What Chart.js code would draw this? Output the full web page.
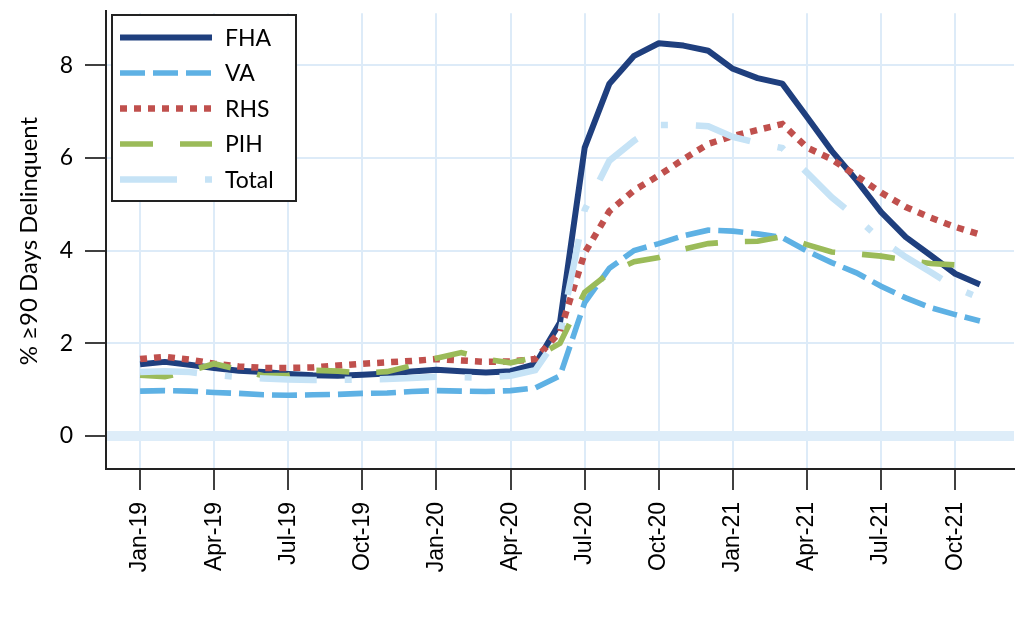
<!DOCTYPE html>
<html>
<head>
<meta charset="utf-8">
<script src="https://cdn.jsdelivr.net/npm/chart.js@4.4.1/dist/chart.umd.min.js"></script>
<style>
html,body{margin:0;padding:0;background:#fff;}
#wrap{width:1024px;height:618px;}
</style>
</head>
<body>
<div id="wrap"><canvas id="c" width="1024" height="618"></canvas></div>
<script>
const months = ["Jan-19","Feb-19","Mar-19","Apr-19","May-19","Jun-19","Jul-19","Aug-19","Sep-19","Oct-19","Nov-19","Dec-19",
  "Jan-20","Feb-20","Mar-20","Apr-20","May-20","Jun-20","Jul-20","Aug-20","Sep-20","Oct-20","Nov-20","Dec-20",
  "Jan-21","Feb-21","Mar-21","Apr-21","May-21","Jun-21","Jul-21","Aug-21","Sep-21","Oct-21","Nov-21"];
const xTickLabels = ["Jan-19","Apr-19","Jul-19","Oct-19","Jan-20","Apr-20","Jul-20","Oct-20","Jan-21","Apr-21","Jul-21","Oct-21"];
const yTickValues = [0,2,4,6,8];

const fha   = [1.55,1.60,1.54,1.47,1.41,1.38,1.34,1.31,1.30,1.32,1.35,1.39,1.43,1.40,1.37,1.40,1.55,2.45,6.22,7.60,8.20,8.47,8.42,8.31,7.92,7.72,7.60,6.88,6.15,5.52,4.83,4.29,3.90,3.50,3.27];
const va    = [0.97,0.98,0.97,0.94,0.92,0.89,0.88,0.89,0.90,0.92,0.93,0.96,0.98,0.97,0.96,0.98,1.04,1.30,2.88,3.62,4.00,4.15,4.32,4.44,4.42,4.36,4.28,3.99,3.74,3.52,3.23,2.98,2.77,2.62,2.48];
const rhs   = [1.66,1.71,1.65,1.56,1.50,1.47,1.47,1.48,1.52,1.56,1.59,1.62,1.66,1.63,1.60,1.61,1.66,2.25,3.95,4.85,5.30,5.62,5.97,6.30,6.47,6.60,6.73,6.22,5.97,5.61,5.25,4.94,4.71,4.51,4.35];
const pih   = [1.31,1.28,1.40,1.56,1.43,1.30,1.31,1.42,1.40,1.36,1.39,1.52,1.68,1.80,1.66,1.58,1.70,2.00,3.10,3.52,3.76,3.85,4.03,4.15,4.19,4.20,4.30,4.13,3.97,3.93,3.88,3.80,3.72,3.69,3.54];
const total = [1.38,1.40,1.38,1.32,1.27,1.24,1.22,1.21,1.21,1.22,1.23,1.25,1.28,1.27,1.26,1.30,1.42,2.20,4.88,5.94,6.37,6.71,6.71,6.68,6.45,6.32,6.21,5.68,5.15,4.71,4.23,3.86,3.54,3.20,2.98];

const toPts = arr => arr.map((v, i) => ({x: i, y: v}));
const xTickIdx = xTickLabels.map(l => months.indexOf(l));

const series = [
  {label:'FHA',   data:fha,   color:'#1f3f7e', width:6,   dash:[],            order:5, join:'round'},
  {label:'VA',    data:va,    color:'#5eb1e4', width:5.6, dash:[25,8],        order:4, join:'miter'},
  {label:'RHS',   data:rhs,   color:'#c0504d', width:6.5, dash:[7,7],         order:3, join:'miter'},
  {label:'PIH',   data:pih,   color:'#9bbb59', width:5.6, dash:[33,27],       order:2, join:'miter'},
  {label:'Total', data:total, color:'#c6e3f6', width:6.5, dash:[57,28,7,28],  order:1, join:'miter'}
];

const legendPlugin = {
  id: 'boxLegend',
  afterDraw(chart) {
    const ctx = chart.ctx;
    const area = chart.chartArea;
    ctx.save();
    // extend the value axis line up to the top of the frame
    if (area.top > 10) {
      ctx.beginPath();
      ctx.lineWidth = 2;
      ctx.strokeStyle = '#222';
      ctx.moveTo(area.left, 10);
      ctx.lineTo(area.left, area.top + 1);
      ctx.stroke();
    }
    const bx = 112, by = 15, bw = 184, bh = 186;
    ctx.fillStyle = '#fff';
    ctx.fillRect(bx, by, bw, bh);
    ctx.lineWidth = 2;
    ctx.strokeStyle = '#222';
    ctx.strokeRect(bx, by, bw, bh);
    series.forEach((s, i) => {
      const y = 37.5 + i * 35.5;
      ctx.beginPath();
      ctx.setLineDash(s.dash);
      ctx.lineDashOffset = 0;
      ctx.lineCap = 'butt';
      ctx.lineWidth = s.width;
      ctx.strokeStyle = s.color;
      ctx.moveTo(120, y);
      ctx.lineTo(212, y);
      ctx.stroke();
      ctx.setLineDash([]);
      ctx.fillStyle = '#000';
      ctx.font = '23px Lato';
      ctx.textBaseline = 'middle';
      ctx.textAlign = 'left';
      ctx.fillText(s.label, 225, y + 1);
    });
    ctx.restore();
  }
};

new Chart(document.getElementById('c'), {
  type: 'line',
  data: {
    datasets: series.map(s => ({
      label: s.label,
      data: toPts(s.data),
      borderColor: s.color,
      backgroundColor: s.color,
      borderWidth: s.width,
      borderDash: s.dash,
      borderCapStyle: 'butt',
      borderJoinStyle: s.join,
      pointRadius: 0,
      tension: 0,
      fill: false,
      order: s.order
    }))
  },
  options: {
    responsive: false,
    devicePixelRatio: 1,
    animation: false,
    layout: {padding: {left: 0, right: 10, top: 0, bottom: 0}},
    plugins: {legend: {display: false}, tooltip: {enabled: false}},
    scales: {
      x: {
        type: 'linear',
        min: -1.38,
        max: 35.38,
        afterBuildTicks: s => { s.ticks = xTickIdx.map(v => ({value: v})); },
        afterFit: s => { s.height = 149; },
        ticks: {
          autoSkip: false,
          maxRotation: 90,
          minRotation: 90,
          padding: 12,
          color: '#000',
          font: {family: 'Liberation Sans', size: 23},
          callback: v => months[v]
        },
        grid: {color: '#ddebf8', lineWidth: 2, tickColor: '#000', tickLength: 21, tickWidth: 1.5},
        border: {color: '#222', width: 2}
      },
      y: {
        min: -0.71,
        max: 9.12,
        afterBuildTicks: s => { s.ticks = yTickValues.slice().reverse().map(v => ({value: v})); },
        afterFit: s => { s.width = 106; },
        ticks: {
          padding: 12,
          color: '#000',
          font: {family: 'Lato', size: 23, lineHeight: 0.1}
        },
        grid: {
          color: c => (c.tick && c.tick.value === 0) ? '#deedf9' : '#ddebf8',
          lineWidth: c => (c.tick && c.tick.value === 0) ? 10 : 2,
          tickColor: '#000',
          tickLength: 21,
          tickWidth: 1.5
        },
        border: {color: '#222', width: 2},
        title: {
          display: true,
          text: '% ≥90 Days Delinquent',
          color: '#000',
          font: {family: 'Lato', size: 24},
          padding: {top: 15, bottom: 0}
        }
      }
    }
  },
  plugins: [legendPlugin]
});
</script>
</body>
</html>
